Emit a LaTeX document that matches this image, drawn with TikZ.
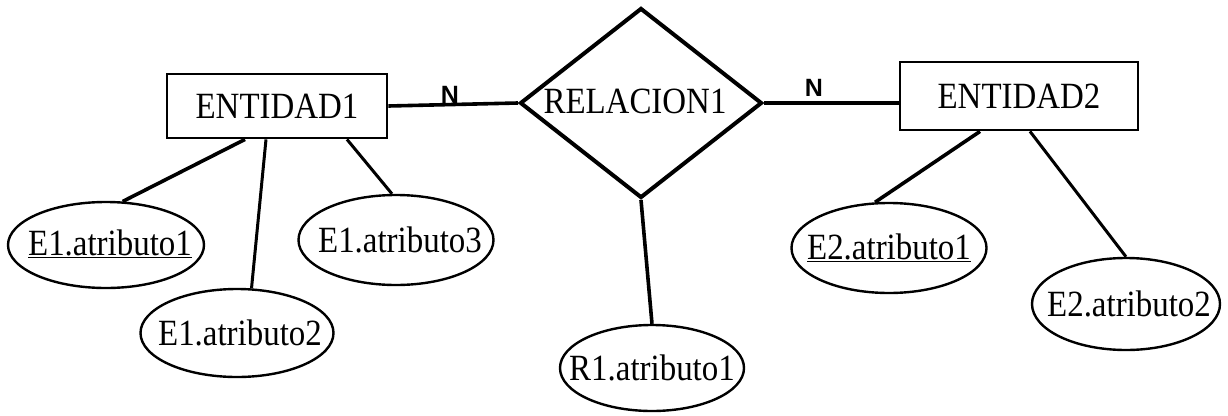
\documentclass[tikz,border=0pt]{standalone}
\usepackage{fontspec}
\setmainfont[FakeStretch=0.89]{Liberation Serif}
\newfontfamily\labelfont{Liberation Sans}
\usetikzlibrary{shapes.geometric}
\newcommand{\ctext}[1]{\makebox[0pt]{#1}}
\begin{document}
\begin{tikzpicture}[x=1pt,y=-1pt,
  every node/.style={font=\fontsize{37}{40}\selectfont},
  entity/.style={draw,line width=2.8pt,rectangle,inner sep=0pt},
  relation/.style={draw,line width=4pt,diamond,inner sep=0pt},
  attrib/.style={draw,line width=2.4pt,ellipse,inner sep=0pt},
  conn/.style={line width=3.6pt},
  thinconn/.style={line width=3pt},
  card/.style={font=\labelfont\bfseries\fontsize{25}{27}\selectfont,inner sep=0pt}]
\useasboundingbox (0,0) rectangle (1228,415);
% entities and relation
\node[entity,minimum width=220pt,minimum height=64pt] (e1) at (277,106) {\raisebox{-9pt}{ENTIDAD1}};
\node[relation,minimum width=242pt,minimum height=190pt] (r1) at (641,103) {\ctext{\hspace*{-12pt}\raisebox{4pt}{RELACION1}}};
\node[entity,minimum width=238pt,minimum height=68pt] (e2) at (1019,96) {\raisebox{-4pt}{ENTIDAD2}};
% attributes
\node[attrib,minimum width=196pt,minimum height=86pt] (a11) at (106,245) {\ctext{\hspace*{8pt}\raisebox{5pt}{\underline{E1.atributo1}}}};
\node[attrib,minimum width=193pt,minimum height=88pt] (a12) at (237,333) {\ctext{\hspace*{6pt}E1.atributo2}};
\node[attrib,minimum width=195pt,minimum height=90pt] (a13) at (396,240) {\ctext{\hspace*{8pt}E1.atributo3}};
\node[attrib,minimum width=184pt,minimum height=86pt] (ar) at (652,368) {\ctext{\raisebox{-3pt}{R1.atributo1}}};
\node[attrib,minimum width=195pt,minimum height=90pt] (a21) at (889,248) {\ctext{\raisebox{-4pt}{\underline{E2.atributo1}}}};
\node[attrib,minimum width=188pt,minimum height=92pt] (a22) at (1126,304) {\ctext{\hspace*{6pt}E2.atributo2}};
% cardinalities
\node[card] (n1) at (450,95) {N};
\node[card] (n2) at (814,88) {N};
% connectors
\draw[conn] (e1.east) -- (r1.west);
\draw[conn] (r1.east) -- (r1.east -| e2.west);
\draw[conn] (r1.south) -- (ar.north);
\draw[conn] ([xshift=-32pt]e1.south) -- (a11.69);
\draw[thinconn] ([xshift=-11pt]e1.south) -- (a12.72);
\draw[thinconn] ([xshift=70pt]e1.south) -- (a13.95);
\draw[conn] ([xshift=-39pt]e2.south) -- (a21.107);
\draw[thinconn] ([xshift=11pt]e2.south) -- (a22.90);
\end{tikzpicture}
\end{document}
